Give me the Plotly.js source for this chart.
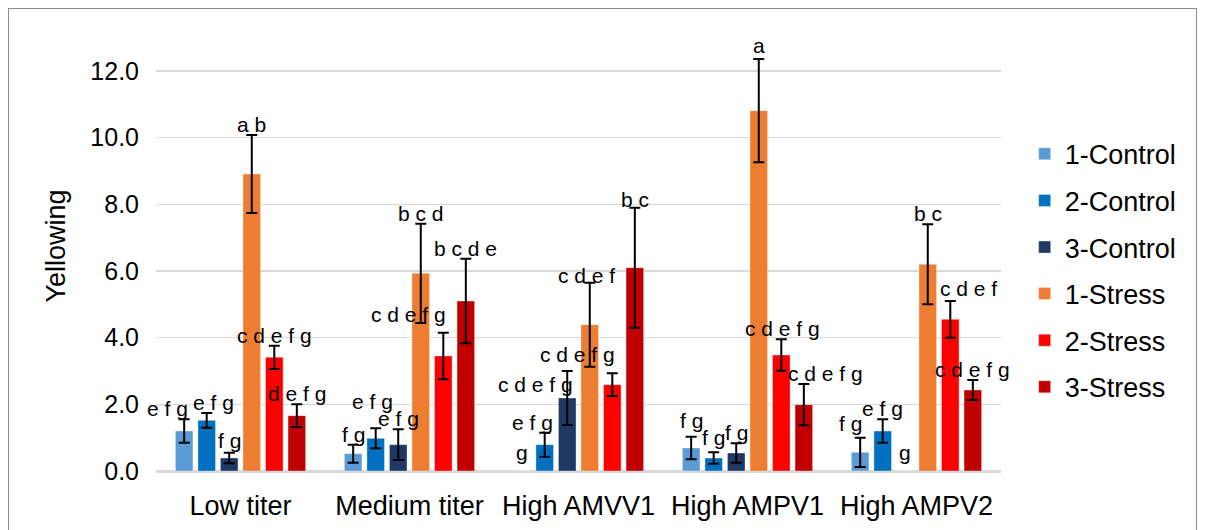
<!DOCTYPE html>
<html>
<head>
<meta charset="utf-8">
<script src="https://cdn.plot.ly/plotly-3.0.1.min.js"></script>
<style>
  html, body { margin: 0; padding: 0; background: #fff; overflow: hidden; }
  #wrap { position: relative; width: 1206px; height: 530px; }
  #chart { position: absolute; left: 0; top: 0; width: 1206px; height: 530px; }
  #frame { position: absolute; left: 8px; top: 8px; width: 1189px; height: 560px;
           border: 1px solid #8c8c8c; pointer-events: none; box-sizing: border-box; }
</style>
</head>
<body>
<div id="wrap">
  <div id="chart"></div>
  <div id="frame"></div>
</div>
<script>
// ---- data ----
const categories = ["Low titer", "Medium titer", "High AMVV1", "High AMPV1", "High AMPV2"];
const seriesNames = ["1-Control", "2-Control", "3-Control", "1-Stress", "2-Stress", "3-Stress"];

const control1 = [1.20, 0.52, 0.00, 0.69, 0.56];
const control2 = [1.52, 0.98, 0.79, 0.39, 1.20];
const control3 = [0.39, 0.79, 2.19, 0.54, 0.00];
const stress1  = [8.91, 5.93, 4.39, 10.81, 6.20];
const stress2  = [3.41, 3.45, 2.59, 3.48, 4.55];
const stress3  = [1.66, 5.10, 6.10, 1.99, 2.43];

const control1Err = [0.35, 0.27, null, 0.34, 0.44];
const control2Err = [0.22, 0.30, 0.36, 0.17, 0.35];
const control3Err = [0.16, 0.46, 0.81, 0.29, null];
const stress1Err  = [1.17, 1.49, 1.26, 1.55, 1.20];
const stress2Err  = [0.35, 0.70, 0.34, 0.47, 0.55];
const stress3Err  = [0.34, 1.27, 1.80, 0.62, 0.30];

const control1Labels = ["e f g", "f g", "g", "f g", "f g"];
const control2Labels = ["e f g", "e f g", "e f g", "f g", "e f g"];
const control3Labels = ["f g", "e f g", "c d e f g", "f g", "g"];
const stress1Labels  = ["a b", "b c d", "c d e f", "a", "b c"];
const stress2Labels  = ["c d e f g", "c d e f g", "c d e f g", "c d e f g", "c d e f"];
const stress3Labels  = ["d e f g", "b c d e", "b c", "c d e f g", "c d e f g"];

const yTickVals = [0, 2, 4, 6, 8, 10, 12];
const yTickText = ["0.0", "2.0", "4.0", "6.0", "8.0", "10.0", "12.0"];

// ---- styling ----
const colors = ["#5B9BD5", "#0070C0", "#1F3864", "#ED7D31", "#FF0000", "#C00000"];
// label nudges in pixels (style only), [series][category]
const labelDx = [
  [-17, 0, 0, 0, -10],
  [7, -3, -12, 0, 0],
  [0, 0, -32, 0, 0],
  [0, 0, -3, 0, 0],
  [0, -35, -35, 1, 18],
  [0, 0, 0, 22, 0]
];
const labelDy = [
  [0, 0, 8, 6, 4],
  [0, 16, 0, 4, 0],
  [2, 0, -24, 0, 8],
  [0, 0, -3, 3, 0],
  [0, 8, 8, 0, 2],
  [0, 0, -2, 0, 0]
];

const values = [control1, control2, control3, stress1, stress2, stress3];
const errs = [control1Err, control2Err, control3Err, stress1Err, stress2Err, stress3Err];
const labels = [control1Labels, control2Labels, control3Labels, stress1Labels, stress2Labels, stress3Labels];

const FONT = "Liberation Sans, Arial, sans-serif";
const BARGAP = 0.2;
const nS = seriesNames.length;
const slot = (1 - BARGAP) / nS;

const traces = seriesNames.map((name, j) => ({
  type: "bar",
  name: name,
  x: categories,
  y: values[j],
  legendgroup: "g" + j,
  marker: { color: colors[j], line: { color: "rgba(255,255,255,0.35)", width: 1 } },
  error_y: {
    type: "data",
    array: errs[j].map(e => (e === null ? NaN : e)),
    visible: true,
    color: "#000000",
    thickness: 2,
    width: 5.5
  },
  hoverinfo: "skip"
}));

const annotations = [];
seriesNames.forEach((name, j) => {
  categories.forEach((c, i) => {
    const top = values[j][i] + (errs[j][i] || 0);
    annotations.push({
      x: i + (j - (nS - 1) / 2) * slot,
      y: top,
      xref: "x", yref: "y",
      text: labels[j][i],
      showarrow: false,
      xanchor: "center",
      yanchor: "bottom",
      xshift: labelDx[j][i],
      yshift: -3 + labelDy[j][i],
      font: { family: FONT, size: 21, color: "#000000" }
    });
  });
});

const layout = {
  width: 1206,
  height: 530,
  paper_bgcolor: "rgba(0,0,0,0)",
  plot_bgcolor: "rgba(0,0,0,0)",
  margin: { l: 156, r: 205, t: 21, b: 59 },
  barmode: "group",
  bargap: BARGAP,
  bargroupgap: 0.22,
  font: { family: FONT, size: 25, color: "#000000" },
  showlegend: true,
  legend: {
    x: 1.028, xanchor: "left",
    y: 0.445, yanchor: "middle",
    font: { family: FONT, size: 27, color: "#000000" },
    tracegroupgap: 8.5,
    itemwidth: 30,
    bgcolor: "rgba(0,0,0,0)"
  },
  xaxis: {
    type: "category",
    range: [-0.5, categories.length - 0.5],
    autorange: false,
    automargin: false,
    showgrid: false,
    showline: true,
    linecolor: "#d9d9d9",
    linewidth: 1.5,
    ticks: "",
    ticklabelstandoff: 10,
    tickfont: { family: FONT, size: 27, color: "#000000" },
    fixedrange: true
  },
  yaxis: {
    range: [0, 13.5],
    autorange: false,
    automargin: false,
    tickvals: yTickVals,
    ticktext: yTickText,
    showgrid: true,
    gridcolor: "#d9d9d9",
    gridwidth: 1.5,
    zeroline: true,
    zerolinecolor: "#d9d9d9",
    zerolinewidth: 1.5,
    showline: false,
    ticks: "",
    ticklabelstandoff: 16,
    tickfont: { family: FONT, size: 25, color: "#000000" },
    title: { text: "Yellowing", font: { family: FONT, size: 27, color: "#000000" }, standoff: 16 },
    fixedrange: true
  },
  annotations: annotations
};

Plotly.newPlot("chart", traces, layout, { displayModeBar: false, staticPlot: true });
</script>
</body>
</html>
